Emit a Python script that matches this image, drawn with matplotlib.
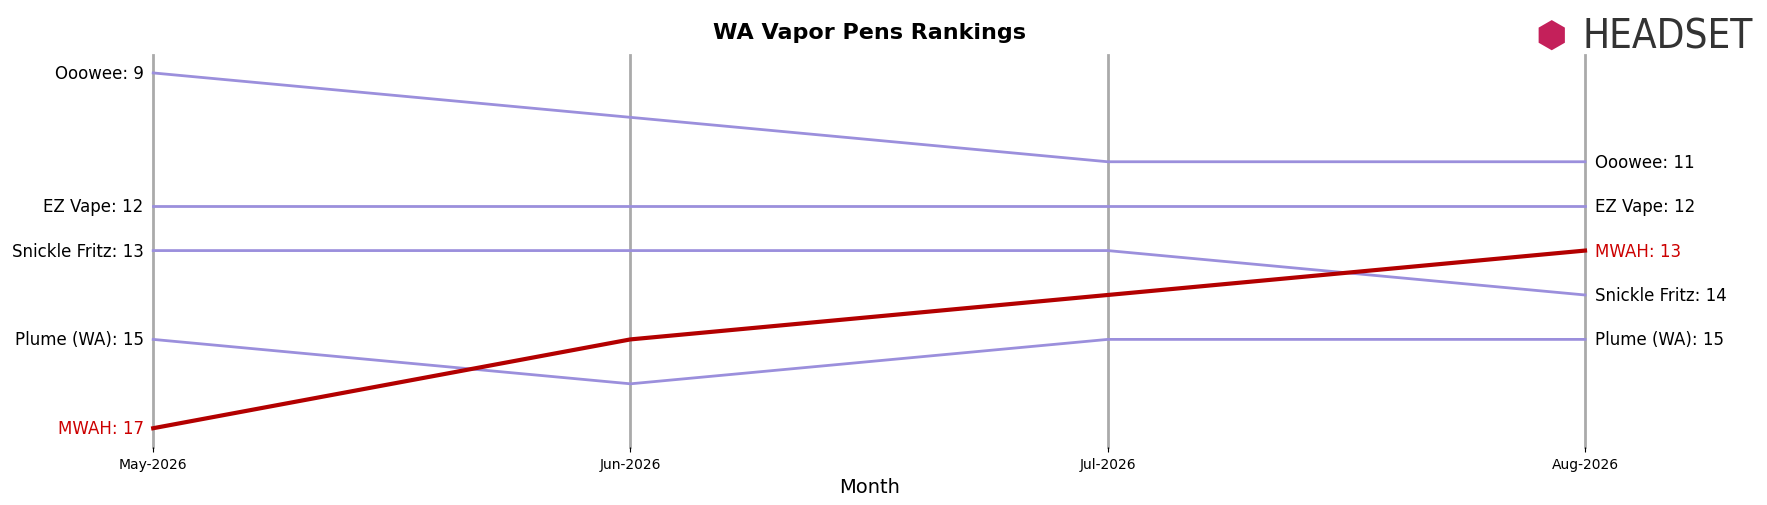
import matplotlib.pyplot as plt

months = ['May-2026', 'Jun-2026', 'Jul-2026', 'Aug-2026']
brands = ['Ooowee', 'EZ Vape', 'Snickle Fritz', 'Plume (WA)', 'MWAH']
ranks = {
    'Ooowee': [9, 10, 11, 11],
    'EZ Vape': [12, 12, 12, 12],
    'Snickle Fritz': [13, 13, 13, 14],
    'Plume (WA)': [15, 16, 15, 15],
    'MWAH': [17, 15, 14, 13],
}
highlight = 'MWAH'

fig = plt.figure(figsize=(17.67, 5.06), dpi=100)
ax = fig.add_axes([0.0867, 0.114, 0.8103, 0.775])
x = list(range(len(months)))

for xi in x:
    ax.axvline(xi, color='#aaaaaa', lw=2, zorder=0, clip_on=False)

for b in brands:
    r = ranks[b]
    if b == highlight:
        c, lw, z = '#b30000', 3, 3
    else:
        c, lw, z = '#9b8fdc', 2, 2
    ax.plot(x, r, color=c, lw=lw, zorder=z, clip_on=False)
    tc = '#cc0000' if b == highlight else 'black'
    ax.text(-0.02, r[0], f'{b}: {r[0]}', ha='right', va='center', fontsize=12, color=tc)
    ax.text(x[-1] + 0.02, r[-1], f'{b}: {r[-1]}', ha='left', va='center', fontsize=12, color=tc)

ax.set_ylim(17.43, 8.6)
ax.set_xlim(0, 3)
ax.set_yticks([])
ax.set_xticks(x)
ax.set_xticklabels(months, fontsize=10)
ax.set_xlabel('Month', fontsize=14)
for s in ax.spines.values():
    s.set_visible(False)
ax.set_title('WA Vapor Pens Rankings', fontsize=16, fontweight='bold', pad=12)

# logo
fig.text(0.992, 0.926, 'HEADSET', fontsize=29, color='#333333', va='center', ha='right',
         family='DejaVu Sans', fontstretch='condensed')
fig.text(0.878, 0.926, '⬢', fontsize=26, color='#c4205a', va='center', ha='center')

fig.savefig('out.png', dpi=100)
